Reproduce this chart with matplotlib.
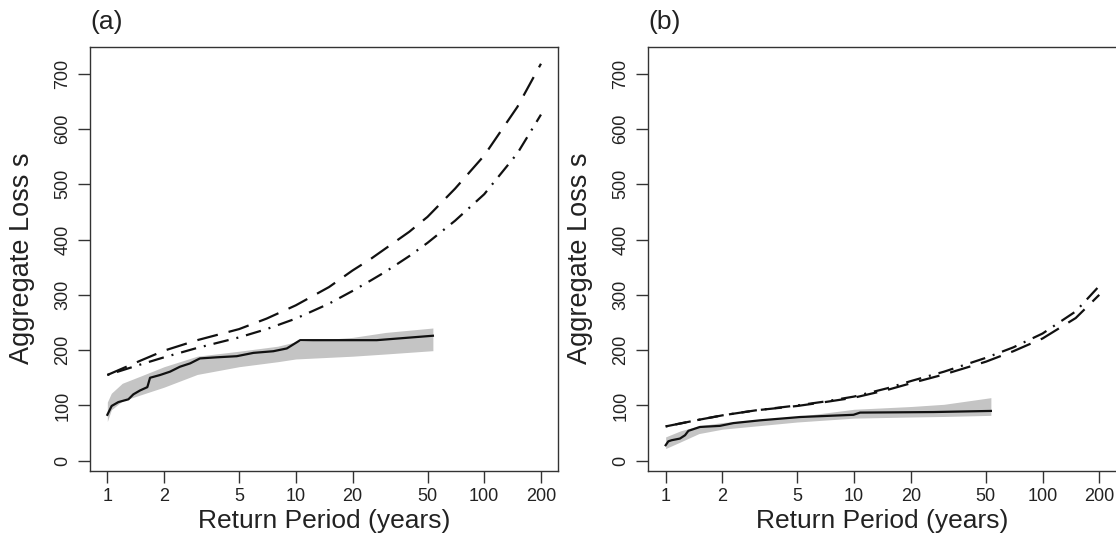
import numpy as np
import matplotlib
matplotlib.use("Agg")
import matplotlib.pyplot as plt

plt.rcParams['font.family'] = ['Liberation Sans', 'DejaVu Sans']

# ---------------- data: panel (a) ----------------
a_curve_rp = [1, 1.5, 2, 3, 5, 7, 10, 15, 20, 25, 30, 40, 50, 70, 100, 150, 200]
a_dashed = [155, 181, 199, 218, 238, 257, 281, 314, 344, 365, 384, 414, 441, 492, 552, 640, 718]
a_dashdot = [155, 174, 187, 204, 223, 238, 257, 284, 307, 326, 342, 370, 394, 434, 482, 556, 626]

a_emp_rp = [1.0, 1.054, 1.144, 1.293, 1.374, 1.49, 1.63, 1.685, 1.905, 2.15, 2.43,
            2.75, 3.1, 3.81, 4.86, 5.96, 7.6, 8.96, 10.55, 26.9, 53.4]
a_emp = [83, 99, 106, 111, 120, 127, 133, 150, 155, 161, 170,
         176, 185, 187, 189, 195, 198, 203, 218, 218, 226]

a_band_rp = [1.0, 1.05, 1.2, 1.5, 2, 3, 5, 8, 10, 20, 30, 53.4]
a_band_hi = [106, 122, 140, 153, 170, 189, 198, 207, 215, 223, 232, 240]
a_band_lo = [71, 92, 108, 119, 133, 156, 170, 179, 184, 189, 193, 199]

# ---------------- data: panel (b) ----------------
b_curve_rp = [1, 1.5, 2, 3, 5, 7, 10, 15, 20, 30, 50, 70, 100, 150, 200]
b_dashed = [62, 74, 82, 91, 99, 106, 114, 128, 140, 156, 179, 198, 221, 258, 300]
b_dashdot = [62, 74, 82, 91, 100, 107, 116, 131, 144, 161, 186, 205, 230, 270, 316]

b_emp_rp = [1.0, 1.033, 1.076, 1.19, 1.267, 1.32, 1.46, 1.52, 1.94, 2.29, 3.17,
            5.17, 9.92, 10.76, 26.4, 53.2]
b_emp = [28, 35, 37, 40, 46, 54, 59, 61, 63, 68, 73, 79, 83, 87, 88, 90]

b_band_rp = [1.0, 1.2, 1.5, 2, 5, 10, 20, 30, 53.2]
b_band_hi = [43, 54, 63, 69, 80, 93, 98, 102, 114]
b_band_lo = [22, 34, 49, 57, 70, 77, 79, 80, 82]

x_ticks = [1, 2, 5, 10, 20, 50, 100, 200]
y_ticks = [0, 100, 200, 300, 400, 500, 600, 700]

# ---------------- figure ----------------
fig = plt.figure(figsize=(11.16, 5.35), dpi=100)
W, H = 1116.0, 535.0
ax_w = 468.3 / W
ax_b = 1 - 470.7 / H
ax_h = 424.0 / H
ax1 = fig.add_axes([90.0 / W, ax_b, ax_w, ax_h])
ax2 = fig.add_axes([648.3 / W, ax_b, ax_w, ax_h])

lo, hi = np.log10(1), np.log10(200)
pad = 0.04 * (hi - lo)
xlim = (10 ** (lo - pad), 10 ** (hi + pad))
ylim = (-18.1, 748.8)

lw = 1.6
panels = [
    (ax1, "(a)", a_curve_rp, a_dashed, a_dashdot, a_emp_rp, a_emp, a_band_rp, a_band_hi, a_band_lo),
    (ax2, "(b)", b_curve_rp, b_dashed, b_dashdot, b_emp_rp, b_emp, b_band_rp, b_band_hi, b_band_lo),
]
for ax, lab, crp, dsh, dd, erp, emp, brp, bhi, blo in panels:
    ax.set_xscale('log')
    ax.fill_between(brp, blo, bhi, color='#c4c4c4', linewidth=0, zorder=1)
    ax.plot(erp, emp, color='#111111', lw=lw, zorder=3)
    ax.plot(crp, dsh, color='#111111', lw=lw, dashes=(9.5, 5), zorder=2)
    ax.plot(crp, dd, color='#111111', lw=lw, dashes=(0.9, 3.6, 7.0, 3.6), zorder=2)
    ax.set_xlim(*xlim)
    ax.set_ylim(*ylim)
    ax.set_xticks(x_ticks)
    ax.set_xticklabels([str(t) for t in x_ticks])
    ax.xaxis.set_minor_locator(matplotlib.ticker.NullLocator())
    ax.set_yticks(y_ticks)
    ax.set_yticklabels([str(t) for t in y_ticks], rotation=90, va='center')
    ax.tick_params(axis='both', direction='out', length=8.5, width=1.0,
                   color='#333333', labelsize=13, labelcolor='#222222')
    ax.tick_params(axis='x', pad=4)
    ax.tick_params(axis='y', pad=5)
    for s in ax.spines.values():
        s.set_linewidth(1.0)
        s.set_color('#333333')
    ax.set_xlabel("Return Period (years)", fontsize=19, color='#222222', labelpad=3)
    ax.set_ylabel("Aggregate Loss s", fontsize=19.5, color='#222222', labelpad=14)
    ax.text(0.0, 1.03, lab, transform=ax.transAxes, fontsize=19,
            color='#222222', ha='left', va='bottom')

fig.savefig("out.png", dpi=100)
